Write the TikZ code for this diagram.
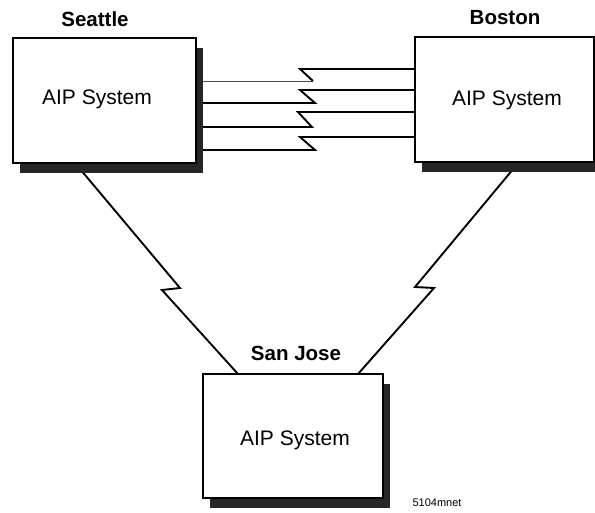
\documentclass[tikz,border=0pt]{standalone}
\usepackage{fontspec}
\setmainfont{Liberation Sans}
\begin{document}
\begin{tikzpicture}[x=1pt,y=-1pt,
  sysbox/.style={draw=black,line width=1.9pt,fill=white,inner sep=0pt,outer sep=0pt},
  shadowc/.style={fill=black!85},
  link/.style={draw=black,line width=1.9pt,line join=miter},
  thinlink/.style={draw=black!70,line width=0.7pt},
  city/.style={font=\fontsize{20.5}{24}\selectfont\bfseries},
  sys/.style={font=\fontsize{21}{25}\selectfont},
  tag/.style={font=\fontsize{11}{13}\selectfont}]
\useasboundingbox (0,0) rectangle (595,512);
% boxes (positions)
\path (104.5,100.5) node[minimum width=183pt,minimum height=125pt,inner sep=0pt,outer sep=0pt] (sea) {};
\path (504.5,99.5) node[minimum width=179pt,minimum height=125pt,inner sep=0pt,outer sep=0pt] (bos) {};
\path (293,436) node[minimum width=180pt,minimum height=124pt,inner sep=0pt,outer sep=0pt] (sj) {};
% connectors Seattle - Boston
\draw[thinlink] (sea.east |- 0,81) -- (313,81);
\draw[link] (313,81) -- (300,69) -- (bos.west |- 0,69);
\draw[link] (sea.east |- 0,103) -- (315,103) -- (300,90) -- (bos.west |- 0,90);
\draw[link] (sea.east |- 0,127) -- (312,127) -- (298,112) -- (bos.west |- 0,112);
\draw[link] (sea.east |- 0,150) -- (315,150) -- (300,137) -- (bos.west |- 0,137);
% Seattle - San Jose
\draw[link] (sea.south -| 75,0) -- (180,288) -- (162,290) -- (sj.north -| 238,0);
% Boston - San Jose
\draw[link] (bos.south -| 519,0) -- (415,287) -- (434,288) -- (sj.north -| 358,0);
% shadows
\foreach \b in {sea,bos,sj}{
  \fill[shadowc] ([shift={(7,10)}]\b.south west) rectangle ([shift={(7,10)}]\b.north east);
}
% boxes drawn
\draw[sysbox] (sea.south west) rectangle (sea.north east);
\draw[sysbox] (bos.south west) rectangle (bos.north east);
\draw[sysbox] (sj.south west) rectangle (sj.north east);
% texts
\node[sys] (seat) at (97,99) {AIP System};
\node[sys] (bost) at (507,100) {AIP System};
\node[sys] (sjt) at (295,440) {AIP System};
\node[city] (seal) at (95,19) {Seattle};
\node[city] (bosl) at (505,18) {Boston};
\node[city] (sjl) at (296,353) {San Jose};
\node[tag] (fig) at (437,503) {5104mnet};
\end{tikzpicture}
\end{document}
